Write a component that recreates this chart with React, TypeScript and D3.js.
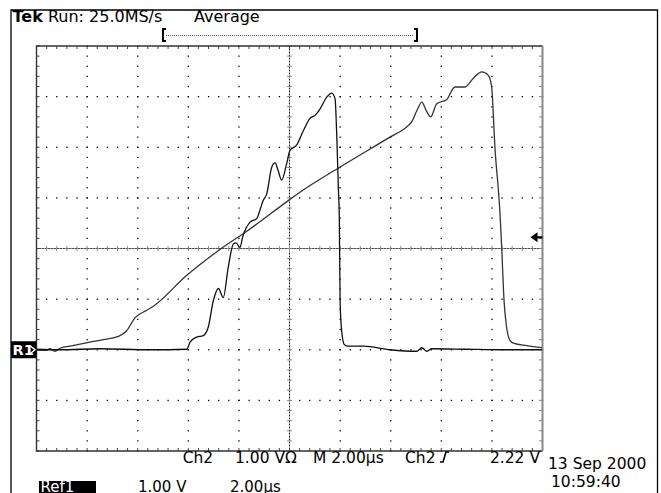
import React from "react";
import * as d3 from "d3";

// ---- Data (time in µs, 2 µs/div; voltage in V relative to the R1 ground marker, 1 V/div) ----
const ch2Time = [0.0, 0.4, 0.53, 0.73, 0.93, 1.32, 2.11, 2.64, 3.3, 3.57, 3.89, 4.36, 4.62, 5.94, 7.25, 8.31, 10.02, 10.41, 12.0, 13.97, 14.63, 14.83, 15.04, 15.23, 15.4, 15.58, 15.82, 16.21, 16.54, 16.94, 17.26, 17.6, 17.86, 17.99, 18.12, 18.32, 18.39, 18.48, 18.58, 18.72, 18.85, 19.38, 19.98];
const ch2Volts = [-0.01, -0.01, 0.02, -0.03, 0.03, 0.07, 0.15, 0.2, 0.28, 0.38, 0.63, 0.78, 0.86, 1.47, 1.98, 2.34, 2.97, 3.11, 3.61, 4.2, 4.4, 4.5, 4.73, 4.89, 4.73, 4.6, 4.86, 4.94, 5.19, 5.19, 5.36, 5.49, 5.42, 5.19, 4.0, 2.69, 1.99, 0.97, 0.45, 0.18, 0.13, 0.08, 0.04];

const ref1Time = [0.0, 0.93, 2.51, 4.49, 5.94, 6.07, 6.33, 6.59, 6.79, 6.99, 7.19, 7.38, 7.58, 7.78, 7.89, 8.04, 8.15, 8.44, 8.7, 8.96, 9.1, 9.3, 9.43, 9.55, 9.69, 9.89, 10.02, 10.28, 10.55, 10.81, 11.01, 11.21, 11.47, 11.67, 11.8, 11.87, 11.93, 11.97, 12.0, 12.06, 12.17, 12.32, 12.92, 13.97, 15.03, 15.23, 15.43, 15.62, 17.0, 18.32, 19.98];
const ref1Volts = [0.01, 0.0, 0.02, 0.0, 0.01, 0.15, 0.25, 0.28, 0.45, 0.97, 1.21, 1.03, 1.63, 2.09, 2.11, 2.02, 2.23, 2.52, 2.59, 2.95, 3.08, 3.61, 3.69, 3.54, 3.35, 3.68, 3.94, 4.04, 4.33, 4.57, 4.63, 4.76, 4.99, 5.07, 4.96, 4.2, 3.21, 2.56, 0.97, 0.38, 0.1, 0.07, 0.07, 0.0, -0.03, 0.04, -0.03, 0.02, 0.01, 0.0, 0.0];

const timeDomain: [number, number] = [0, 20];
const voltDomain: [number, number] = [-2, 6];
const triggerLevel = 2.22; // V

const headerBrand = "Tek";
const headerRun = "Run: 25.0MS/s";
const headerMode = "Average";
const bottomLabels = ["Ch2", "1.00 V\u03A9", "M 2.00\u00B5s", "Ch2", "2.22 V"];
const refLabels = ["Ref1", "1.00 V", "2.00\u00B5s"];
const dateLabels = ["13 Sep 2000", "10:59:40"];

const FONT = "'DejaVu Sans', Verdana, sans-serif";

export default function App() {
  const W = 661, H = 493;
  const left = 36.5, right = 542.5, top = 46, bottom = 451;
  const x = d3.scaleLinear().domain(timeDomain).range([left, right]);
  const y = d3.scaleLinear().domain(voltDomain).range([bottom, top]);

  const majorX = d3.range(timeDomain[0], timeDomain[1] + 0.001, 2);
  const majorY = d3.range(voltDomain[0], voltDomain[1] + 0.001, 1);
  const minorX = d3.range(0, 51).map((k) => timeDomain[0] + k * 0.4);
  const minorY = d3.range(0, 41).map((k) => voltDomain[0] + k * 0.2);
  const cx = x(10), cy = y(2);

  const line = d3
    .line<[number, number]>()
    .x((d) => x(d[0]))
    .y((d) => y(d[1]))
    .curve(d3.curveMonotoneX);

  const ch2 = line(ch2Time.map((t, i) => [t, ch2Volts[i]]) as [number, number][]) || "";
  const ref1 = line(ref1Time.map((t, i) => [t, ref1Volts[i]]) as [number, number][]) || "";

  const dots: React.ReactNode[] = [];
  majorX.slice(1, -1).forEach((t) => {
    if (t === 10) return;
    minorY.forEach((v, j) =>
      dots.push(<rect key={`vx${t}-${j}`} x={x(t) - 0.6} y={y(v) - 0.6} width={1.3} height={1.3} fill="#000" />)
    );
  });
  majorY.slice(1, -1).forEach((v) => {
    if (v === 2) return;
    minorX.forEach((t, j) =>
      dots.push(<rect key={`hy${v}-${j}`} x={x(t) - 0.6} y={y(v) - 0.6} width={1.3} height={1.3} fill="#000" />)
    );
  });

  const ticks: React.ReactNode[] = [];
  minorX.forEach((t, j) => {
    ticks.push(<line key={`tt${j}`} x1={x(t)} x2={x(t)} y1={top} y2={top + 3} stroke="#444" strokeWidth={1} />);
    ticks.push(<line key={`tb${j}`} x1={x(t)} x2={x(t)} y1={bottom} y2={bottom - 3} stroke="#444" strokeWidth={1} />);
    ticks.push(<line key={`tc${j}`} x1={x(t)} x2={x(t)} y1={cy - 2.5} y2={cy + 2.5} stroke="#888" strokeWidth={1} />);
  });
  minorY.forEach((v, j) => {
    ticks.push(<line key={`tl${j}`} x1={left} x2={left + 3} y1={y(v)} y2={y(v)} stroke="#444" strokeWidth={1} />);
    ticks.push(<line key={`tr${j}`} x1={right} x2={right - 3.5} y1={y(v)} y2={y(v)} stroke="#888" strokeWidth={1} />);
    ticks.push(<line key={`tcy${j}`} x1={cx - 2.5} x2={cx + 2.5} y1={y(v)} y2={y(v)} stroke="#888" strokeWidth={1} />);
  });

  const ty = y(triggerLevel);

  return (
    <svg width={W} height={H} style={{ position: "absolute", left: 0, top: 0, background: "#fff" }}>
      <rect x={0} y={0} width={W} height={H} fill="#fff" />
      {/* outer frame */}
      <path d={`M11,${H} V10 H657.5 V${H}`} fill="none" stroke="#000" strokeWidth={1.3} />

      {/* header */}
      <text x={12.5} y={21.5} fontFamily={FONT} fontSize={16} fill="#000">
        <tspan fontWeight="bold">{headerBrand}</tspan>
        <tspan> {headerRun}</tspan>
      </text>
      <text x={194} y={21.5} fontFamily={FONT} fontSize={16} fill="#000">{headerMode}</text>
      {/* record window bracket */}
      <path d="M166,29 H163 V41 H166" fill="none" stroke="#000" strokeWidth={2} />
      <path d="M414,29 H417 V41 H414" fill="none" stroke="#000" strokeWidth={2} />
      <line x1={166} x2={414} y1={35.5} y2={35.5} stroke="#555" strokeWidth={1} strokeDasharray="1 1" />

      {/* grid */}
      {dots}
      <line x1={left} x2={right} y1={cy} y2={cy} stroke="#999" strokeWidth={1} />
      <line x1={left} x2={right} y1={cy} y2={cy} stroke="#000" strokeWidth={1} strokeDasharray="1 2" />
      <line x1={cx} x2={cx} y1={top} y2={bottom} stroke="#999" strokeWidth={1} />
      <line x1={cx} x2={cx} y1={top} y2={bottom} stroke="#000" strokeWidth={1} strokeDasharray="1 2" />
      {ticks}
      <path d={`M${right},${top} H${left} V${bottom} H${right}`} fill="none" stroke="#333" strokeWidth={1.4} />
      <line x1={right} x2={right} y1={top} y2={bottom} stroke="#888" strokeWidth={2} />

      {/* traces */}
      <path d={ch2} fill="none" stroke="#333" strokeWidth={1.3} strokeLinejoin="round" />
      <path d={ref1} fill="none" stroke="#111" strokeWidth={1.3} strokeLinejoin="round" />

      {/* trigger level arrow */}
      <path d={`M${right - 12},${ty} L${right - 5},${ty - 5} L${right - 5},${ty + 5} Z`} fill="#000" />
      <line x1={right - 6} x2={right} y1={ty} y2={ty} stroke="#000" strokeWidth={2.2} />

      {/* R1 ground marker */}
      <rect x={11} y={y(0) - 8.5} width={left - 11} height={17} fill="#000" />
      <text x={12.5} y={y(0) + 5.5} fontFamily={FONT} fontSize={14.5} fontWeight="bold" fill="#fff">R1</text>
      <path d={`M${left - 7},${y(0) - 4.5} L${left - 1.5},${y(0)} L${left - 7},${y(0) + 4.5}`} fill="none" stroke="#fff" strokeWidth={1.4} />

      {/* bottom readouts */}
      <text x={182.7} y={463} fontFamily={FONT} fontSize={15.5} fill="#000">{bottomLabels[0]}</text>
      <text x={235} y={463} fontFamily={FONT} fontSize={15.5} fill="#000">{bottomLabels[1]}</text>
      <text x={313} y={463} fontFamily={FONT} fontSize={15.5} fill="#000">{bottomLabels[2]}</text>
      <text x={405} y={463} fontFamily={FONT} fontSize={15.5} fill="#000">{bottomLabels[3]}</text>
      <path d="M440,462 H443 L446,452 H449" fill="none" stroke="#000" strokeWidth={1.6} />
      <text x={540} y={463} textAnchor="end" fontFamily={FONT} fontSize={15.5} fill="#000">{bottomLabels[4]}</text>

      <text x={548} y={469} fontFamily={FONT} fontSize={15.5} fill="#000">{dateLabels[0]}</text>
      <text x={551} y={487} fontFamily={FONT} fontSize={15.5} fill="#000">{dateLabels[1]}</text>

      <rect x={39} y={481} width={57} height={12} fill="#000" />
      <text x={40.5} y={492} fontFamily={FONT} fontSize={15} fill="#fff">{refLabels[0]}</text>
      <text x={138} y={492} fontFamily={FONT} fontSize={15} fill="#000">{refLabels[1]}</text>
      <text x={230} y={492} fontFamily={FONT} fontSize={15} fill="#000">{refLabels[2]}</text>
    </svg>
  );
}
